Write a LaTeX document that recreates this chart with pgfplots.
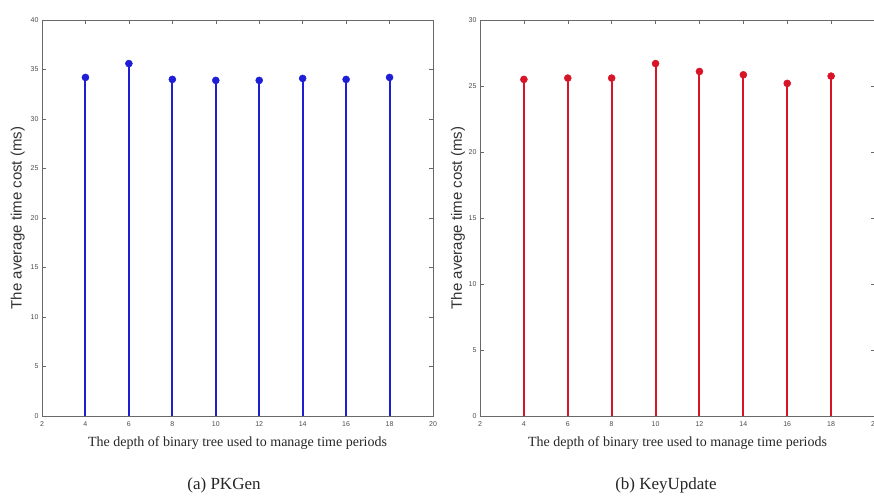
\documentclass[border=0pt]{standalone}
\usepackage{fontspec}
\setmainfont{Liberation Serif}
\setsansfont{Liberation Sans}
\usepackage{pgfplots}
\pgfplotsset{compat=1.18}

\definecolor{axgray}{RGB}{105,105,105}
\definecolor{stemblue}{RGB}{30,30,215}
\definecolor{stemred}{RGB}{215,20,40}

\pgfplotsset{
  stemaxis/.style={
    scale only axis,
    height=396pt,
    xmin=2, xmax=20, ymin=0,
    xtick={2,4,...,20},
    axis line style={axgray, line width=0.8pt},
    tick style={axgray, line width=0.5pt},
    major tick length=4pt,
    tick align=inside,
    tick label style={font=\sffamily\fontsize{7}{8}\selectfont, text=black!70},
    /pgf/number format/assume math mode=true,
    xticklabel style={yshift=-2pt},
    xlabel={The depth of binary tree used to manage time periods},
    xlabel style={font=\fontsize{14}{15}\selectfont, text=black!85,
      at={(axis description cs:0.5,0)}, anchor=center, yshift=-27pt},
    ylabel={The average time cost (ms)},
    ylabel style={font=\sffamily\fontsize{15}{16}\selectfont, text=black!80,
      anchor=center},
  },
}

\begin{document}
\begin{tikzpicture}
\useasboundingbox (0,0) rectangle (874pt,-495pt);

\begin{axis}[stemaxis, at={(42pt,-416pt)}, anchor=south west,
  width=391pt, ymax=40, ytick={0,5,...,40},
  ylabel style={at={(axis description cs:-0.062,0.5)}}]
  \addplot[ycomb, stemblue, line width=2pt, mark=*, mark size=3.5pt,
    mark options={fill=stemblue, draw=stemblue, line width=0.5pt}] coordinates {
    (4,34.2) (6,35.6) (8,34.0) (10,33.9) (12,33.9) (14,34.1) (16,34.0) (18,34.2)
  };
\end{axis}

\begin{axis}[stemaxis, at={(480pt,-416pt)}, anchor=south west,
  width=395pt, ymax=30, ytick={0,5,...,30},
  ylabel style={at={(axis description cs:-0.056,0.5)}}]
  \addplot[ycomb, stemred, line width=2pt, mark=*, mark size=3.5pt,
    mark options={fill=stemred, draw=stemred, line width=0.5pt}] coordinates {
    (4,25.5) (6,25.6) (8,25.6) (10,26.7) (12,26.1) (14,25.85) (16,25.2) (18,25.75)
  };
\end{axis}

\node[font=\fontsize{17}{18}\selectfont, text=black!85] at (224pt,-485pt) {(a) PKGen};
\node[font=\fontsize{17}{18}\selectfont, text=black!85] at (666pt,-485pt) {(b) KeyUpdate};
\end{tikzpicture}
\end{document}
